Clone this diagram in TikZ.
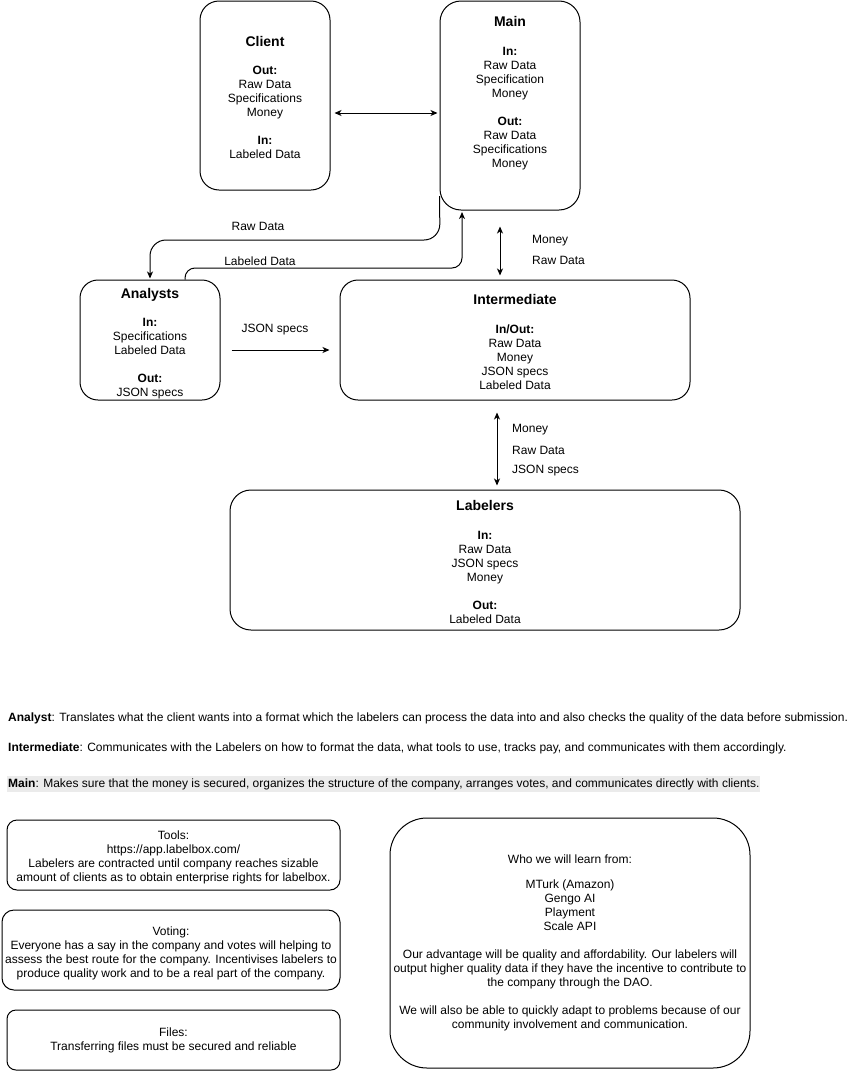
\documentclass[tikz,border=0pt]{standalone}
\usepackage{fontspec}
\setmainfont{Liberation Sans}
\usepackage{tikz}
\usetikzlibrary{calc}
\usetikzlibrary{arrows.meta,positioning}
\definecolor{notegray}{HTML}{EBEBEB}
\newcommand{\boxhead}[1]{{\fontsize{14}{17}\selectfont\bfseries\rule{0pt}{14pt}#1}}
\tikzset{
    blk/.style={draw, line width=1pt, rounded corners=#1, align=center, inner sep=0pt},
    blk/.default=18pt,
    flow/.style={line width=1pt, >={Stealth[length=7pt,width=6pt,inset=2pt]}},
    flowtxt/.style={inner sep=0pt, anchor=west},
    note/.style={inner sep=0pt, anchor=west}
}

\begin{document}
\begin{tikzpicture}[x=1pt, y=-1pt, every node/.style={font=\fontsize{12}{14}\selectfont}]
			\useasboundingbox (0,0) rectangle (857,1071);

			% company structure
			\node[blk=19pt, minimum width=130pt, minimum height=189pt] (client) at (265,95.5) {\boxhead{Client}\\[14pt]\textbf{Out:}\\Raw Data\\Specifications\\Money\\[14pt]\textbf{In:}\\Labeled Data};
			\node[blk=21pt, minimum width=140pt, minimum height=209pt] (main) at (510,105.5) {\boxhead{Main}\\[15pt]\textbf{In:}\\Raw Data\\Specification\\Money\\[14pt]\textbf{Out:}\\Raw Data\\Specifications\\Money\\[13pt]\rule{0pt}{14pt}};
			\node[blk, minimum width=140pt, minimum height=120pt] (analysts) at (150,340) {\rule{0pt}{4pt}\\\boxhead{Analysts}\\[14pt]\textbf{In:}\\Specifications\\Labeled Data\\[14pt]\textbf{Out:}\\JSON specs};
			\node[blk, minimum width=350pt, minimum height=120pt] (inter) at (515,340) {\boxhead{Intermediate}\\[15pt]\textbf{In/Out:}\\Raw Data\\Money\\JSON specs\\Labeled Data};
			\node[blk=21pt, minimum width=510pt, minimum height=140pt] (labelers) at (485,560) {\boxhead{Labelers}\\[15pt]\textbf{In:}\\Raw Data\\JSON specs\\Money\\[14pt]\textbf{Out:}\\Labeled Data};

			\node (rawlbl) at (258,226) {Raw Data};
			\node (labeledlbl) at (260,261) {Labeled Data};
			\node (jsonlbl) at (275,330) {JSON specs};
			\node[flowtxt] (moneyup) at (532,241) {Money};
			\node[flowtxt] (rawup) at (532,260) {Raw Data};
			\node[flowtxt] (moneydown) at (512,430) {Money};
			\node[flowtxt] (rawdown) at (512,450) {Raw Data};
			\node[flowtxt] (jsondown) at (512,471) {JSON specs};

			\draw[flow, <->, shorten <=4pt, shorten >=2pt] ([yshift=-17.5pt]client.east) -- ([yshift=-7.5pt]main.west);
			\draw[flow, <->, shorten <=16pt, shorten >=4pt] (main.south -| 500,0) -- (inter.north -| 500,0);
			\draw[flow, <->, shorten <=12pt, shorten >=4pt] (inter.south -| 497,0) -- (labelers.north -| 497,0);
			\draw[flow, ->, rounded corners=16pt, shorten >=1pt] (main.west |- 0,196) -- (440,240) -- (150,240) -- (analysts.north -| 150,0);
			\draw[flow, ->, rounded corners=10pt, shorten >=1.5pt] (analysts.north -| 185,0) -- (185,268) -- (462,268) -- (main.south -| 462,0);
			\draw[flow, ->] ([xshift=11pt,yshift=-10pt]analysts.east) -- ([xshift=-10pt,yshift=-10pt]inter.west);

			% roles
			\node[note] (noteanalyst) at (8,718) {\textbf{Analyst}: Translates what the client wants into a format which the labelers can process the data into and also checks the quality of the data before submission.};
			\node[note] (noteinter) at (8,748) {\textbf{Intermediate}: Communicates with the Labelers on how to format the data, what tools to use, tracks pay, and communicates with them accordingly.};
			\node[note, inner xsep=1pt, inner ysep=2pt, fill=notegray] (notemain) at (7,784) {\textbf{Main}: Makes sure that the money is secured, organizes the structure of the company, arranges votes, and communicates directly with clients.};

			% side notes
			\node[blk=10pt, minimum width=333pt, minimum height=70pt] (tools) at (173.5,855) {\rule{0pt}{14pt}Tools:\\https://app.labelbox.com/\\Labelers are contracted until company reaches sizable\\amount of clients as to obtain enterprise rights for labelbox.};
			\node[blk=12pt, minimum width=338pt, minimum height=80pt] (voting) at (171,950) {\rule{0pt}{16pt}Voting:\\Everyone has a say in the company and votes will helping to\\assess the best route for the company. Incentivises labelers to\\produce quality work and to be a real part of the company.};
			\node[blk=9pt, minimum width=333pt, minimum height=60pt] (files) at (173.5,1040) {Files:\\Transferring files must be secured and reliable};
			\node[blk=37pt, minimum width=360pt, minimum height=250pt] (learn) at (570,943) {Who we will learn from:\\[11pt]MTurk (Amazon)\\Gengo AI\\Playment\\Scale API\\[14pt]Our advantage will be quality and affordability. Our labelers will\\output higher quality data if they have the incentive to contribute to\\the company through the DAO.\\[14pt]We will also be able to quickly adapt to problems because of our\\community involvement and communication.};

		\end{tikzpicture}
\end{document}
